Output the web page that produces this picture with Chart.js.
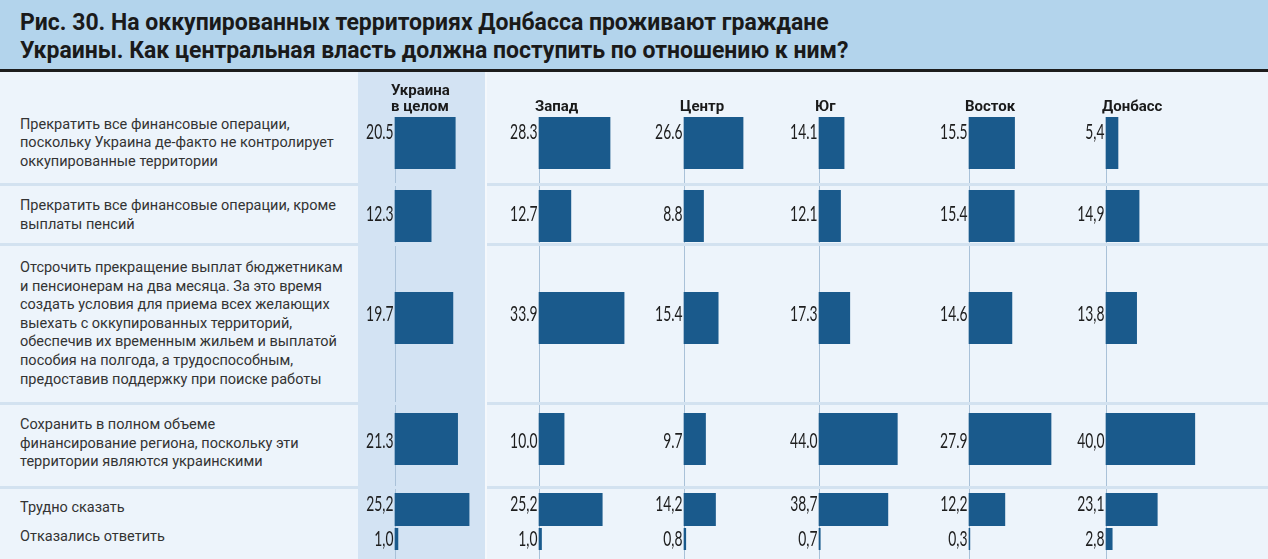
<!DOCTYPE html>
<html><head><meta charset="utf-8">
<script src="https://cdn.jsdelivr.net/npm/chart.js@4"></script>
<style>
html,body{margin:0;padding:0;}
body{width:1268px;height:559px;overflow:hidden;background:#edf4fb;position:relative;font-family:Roboto,sans-serif;}
#title{position:absolute;left:0;top:0;width:1268px;height:69px;background:#b3d4ec;border-bottom:3px solid #1d1d1d;}
#title div{position:absolute;left:20px;font:bold 23px Roboto,sans-serif;color:#1a1a1a;white-space:nowrap;}
.hl{position:absolute;left:358px;top:72px;width:127px;height:487px;background:#d3e3f3;}
.gap{position:absolute;left:485px;top:72px;width:2px;height:487px;background:#f4f8fc;}
.sep{position:absolute;height:3px;background:#d3e2f0;}
.ans{position:absolute;left:20px;font-size:14.5px;line-height:18.6px;color:#333;white-space:pre;}
canvas{position:absolute;left:0;}
</style></head><body>
<div id="title">
  <div style="top:9px">Рис. 30. На оккупированных территориях Донбасса проживают граждане</div>
  <div style="top:37px">Украины. Как центральная власть должна поступить по отношению к ним?</div>
</div>
<div class="hl"></div>
<div class="gap"></div>
<script>
// ---- data ----
const answers = [
  ['Прекратить все финансовые операции,', 'поскольку Украина де-факто не контролирует', 'оккупированные территории'],
  ['Прекратить все финансовые операции, кроме', 'выплаты пенсий'],
  ['Отсрочить прекращение выплат бюджетникам', 'и пенсионерам на два месяца. За это время', 'создать условия для приема всех желающих', 'выехать с оккупированных территорий,', 'обеспечив их временным жильем и выплатой', 'пособия на полгода, а трудоспособным,', 'предоставив поддержку при поиске работы'],
  ['Сохранить в полном объеме', 'финансирование региона, поскольку эти', 'территории являются украинскими'],
  ['Трудно сказать'],
  ['Отказались ответить']
];
const regions = [['Украина', 'в целом'], ['Запад'], ['Центр'], ['Юг'], ['Восток'], ['Донбасс']];
const ukraine = [20.5, 12.3, 19.7, 21.3, 25.2, 1.0];
const zapad   = [28.3, 12.7, 33.9, 10.0, 25.2, 1.0];
const centr   = [26.6, 8.8, 15.4, 9.7, 14.2, 0.8];
const yug     = [14.1, 12.1, 17.3, 44.0, 38.7, 0.7];
const vostok  = [15.5, 15.4, 14.6, 27.9, 12.2, 0.3];
const donbass = [5.4, 14.9, 13.8, 40.0, 23.1, 2.8];
const series = [ukraine, zapad, centr, yug, vostok, donbass];

// ---- layout / style ----
const W = 1268;
const BAR = '#1a5a8c';
const colBase = [395, 539, 684, 819, 969, 1106];
const colScale = [2.94, 2.51, 2.22, 1.78, 2.94, 2.22];
const rowLayout = [
  {top: 72,  h: 111, bar: [117, 169], text: 115.5, lab: -12},
  {top: 186, h: 57,  bar: [190, 242], text: 197, lab: -3},
  {top: 246, h: 156, bar: [292, 344], text: 259, lab: -5},
  {top: 405, h: 81,  bar: [413, 465], text: 416, lab: 1},
  {top: 489, h: 38,  bar: [493, 526], text: 499, lab: -6},
  {top: 527, h: 32,  bar: [528, 550], text: 528, lab: -1}
];
const seps = [184, 244, 403, 487];

seps.forEach(y => {
  [[0, 358], [487, W]].forEach(([a, b]) => {
    const d = document.createElement('div');
    d.className = 'sep';
    d.style.cssText = `top:${y - 1}px;left:${a}px;width:${b - a}px`;
    document.body.appendChild(d);
  });
});

function fmt(v, col, row) {
  const s = v.toFixed(1);
  return (col === 5 || row >= 4) ? s.replace('.', ',') : s;
}

const decoPlugin = {
  id: 'deco',
  beforeDatasetsDraw(chart) {
    const ctx = chart.ctx, row = chart.options.plugins.deco.row;
    ctx.save();
    ctx.strokeStyle = '#a9c1d8';
    ctx.lineWidth = 1;
    for (let k = 0; k < 6; k++) {
      const x = Math.round(chart.scales['x' + k].getPixelForValue(0)) + 0.5;
      ctx.beginPath();
      ctx.moveTo(x, row === 0 ? chart.chartArea.top : 0);
      ctx.lineTo(x, chart.height);
      ctx.stroke();
    }
    ctx.restore();
  },
  afterDatasetsDraw(chart) {
    const ctx = chart.ctx, row = chart.options.plugins.deco.row;
    const L = rowLayout[row];
    const yc = (chart.chartArea.top + chart.chartArea.bottom) / 2 + L.lab;
    ctx.save();
    for (let k = 0; k < 6; k++) {
      const x0 = chart.scales['x' + k].getPixelForValue(0);
      ctx.save();
      ctx.translate(x0 - 1.5, yc);
      ctx.scale(0.66, 1);
      ctx.font = '400 21px Lato, sans-serif';
      ctx.fillStyle = '#1e1e1e';
      ctx.textAlign = 'right';
      ctx.textBaseline = 'middle';
      ctx.fillText(fmt(series[k][row], k, row), 0, 1);
      ctx.restore();
      if (row === 0) {
        const lines = regions[k];
        ctx.font = 'bold 15px Roboto, sans-serif';
        ctx.fillStyle = '#1a1a1a';
        ctx.textAlign = 'left';
        ctx.textBaseline = 'middle';
        lines.forEach((t, i) => {
          const y = chart.chartArea.top - 10 - (lines.length - 1 - i) * 16;
          ctx.fillText(t, x0 - 4, y);
        });
      }
    }
    ctx.restore();
  }
};

rowLayout.forEach((L, row) => {
  const t = document.createElement('div');
  t.className = 'ans';
  t.style.top = L.text + 'px';
  t.textContent = answers[row].join('\n');
  document.body.appendChild(t);

  const c = document.createElement('canvas');
  c.width = W; c.height = L.h;
  c.style.top = L.top + 'px';
  document.body.appendChild(c);

  const scales = { y: { type: 'category', display: false } };
  const datasets = series.map((s, k) => {
    scales['x' + k] = {
      type: 'linear', display: false,
      min: -colBase[k] / colScale[k],
      max: (W - colBase[k]) / colScale[k]
    };
    return {
      label: regions[k].join(' '),
      data: [s[row]],
      xAxisID: 'x' + k,
      yAxisID: 'y',
      grouped: false,
      backgroundColor: BAR,
      borderWidth: 0,
      barPercentage: 1,
      categoryPercentage: 1
    };
  });

  new Chart(c, {
    type: 'bar',
    data: { labels: [answers[row].join(' ')], datasets },
    options: {
      indexAxis: 'y',
      responsive: false,
      animation: false,
      layout: { padding: { top: L.bar[0] - L.top, bottom: L.top + L.h - L.bar[1], left: 0, right: 0 } },
      scales,
      plugins: { legend: { display: false }, tooltip: { enabled: false }, deco: { row } }
    },
    plugins: [decoPlugin]
  });
});
</script>
</body></html>
